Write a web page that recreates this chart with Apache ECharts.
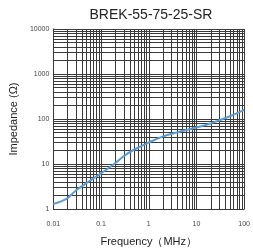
<!DOCTYPE html>
<html>
<head>
<meta charset="utf-8">
<script src="https://cdn.jsdelivr.net/npm/echarts@6/dist/echarts.min.js"></script>
<style>
html,body{margin:0;padding:0;background:#fff;}
#chart{width:253px;height:252px;}
</style>
</head>
<body>
<div id="chart"></div>
<script>
var titleText = 'BREK-55-75-25-SR';
var xName = 'Frequency（MHz）';
var yName = 'Impedance (Ω)';
var xTickLabels = ['0.01', '0.1', '1', '10', '100'];
var yTickLabels = ['1', '10', '100', '1000', '10000'];
var freq = [0.01, 0.015, 0.02, 0.03, 0.05, 0.1, 0.2, 0.3, 0.5, 1, 2, 5, 10, 20, 50, 100];
var impedance = [1.3, 1.5, 1.75, 2.6, 3.8, 6.2, 10.5, 15, 21, 30, 41, 54, 65, 80, 115, 160];

var xMajors = xTickLabels.map(Number);
var yMajors = yTickLabels.map(Number);
function minors(majors) {
  var out = [];
  for (var i = 0; i < majors.length - 1; i++) {
    for (var k = 2; k <= 9; k++) out.push(majors[i] * k);
  }
  return out;
}
function labelFor(list) {
  return function (v) {
    for (var i = 0; i < list.length; i++) {
      if (Math.abs(Math.log10(v) - Math.log10(Number(list[i]))) < 1e-6) return list[i];
    }
    return '';
  };
}
var gridColor = '#3a3a3a';
var font = 'Liberation Sans, Arial, sans-serif';
var minorLines = [];
minors(xMajors).forEach(function (v) { minorLines.push({ xAxis: v }); });
minors(yMajors).forEach(function (v) { minorLines.push({ yAxis: v }); });

var chart = echarts.init(document.getElementById('chart'), null, { renderer: 'canvas' });
chart.setOption({
  animation: false,
  title: {
    text: titleText,
    left: 146, top: 3, textAlign: 'center',
    textStyle: { fontSize: 14, fontWeight: 'normal', color: '#222', fontFamily: font }
  },
  grid: { left: 44, right: 5, top: 29, bottom: 32 },
  xAxis: {
    type: 'log', logBase: 10, min: 0.01, max: 100,
    name: xName, nameLocation: 'middle', nameGap: 27,
    nameTextStyle: { fontSize: 11, color: '#222', fontFamily: font },
    axisLine: { show: true, lineStyle: { color: gridColor } },
    axisTick: { show: false },
    axisLabel: { fontSize: 7, color: '#444', margin: 12, formatter: labelFor(xTickLabels), fontFamily: font },
    splitLine: { show: true, lineStyle: { color: gridColor, width: 1 } }
  },
  yAxis: {
    type: 'log', logBase: 10, min: 1, max: 10000,
    name: yName, nameLocation: 'middle', nameGap: 28,
    nameTextStyle: { fontSize: 11, color: '#222', fontFamily: font },
    axisLine: { show: true, lineStyle: { color: gridColor } },
    axisTick: { show: false },
    axisLabel: { fontSize: 7, color: '#444', margin: 4, padding: [9, 0, 0, 0], formatter: labelFor(yTickLabels), fontFamily: font },
    splitLine: { show: true, lineStyle: { color: gridColor, width: 1 } }
  },
  series: [{
    type: 'line',
    data: freq.map(function (f, i) { return [f, impedance[i]]; }),
    smooth: 0.4,
    showSymbol: false,
    lineStyle: { color: '#5b9bd5', width: 2 },
    z: 5,
    markLine: {
      silent: true,
      symbol: ['none', 'none'],
      label: { show: false },
      lineStyle: { color: gridColor, width: 1, type: 'solid' },
      emphasis: { disabled: true },
      data: minorLines,
      z: 1
    }
  }]
});
</script>
</body>
</html>
